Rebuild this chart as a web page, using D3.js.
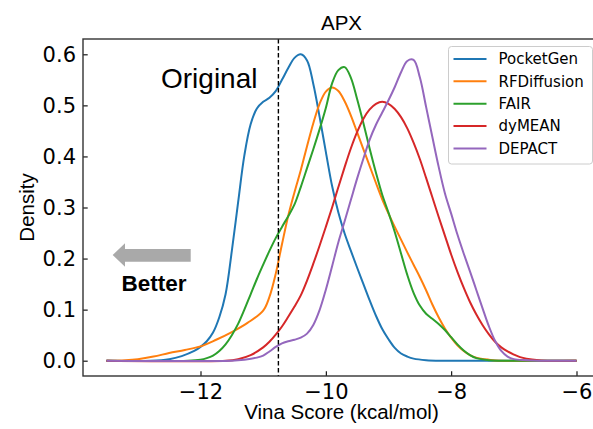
<!DOCTYPE html>
<html>
<head>
<meta charset="utf-8">
<script src="https://cdn.jsdelivr.net/npm/d3@7"></script>
<style>
  body { margin: 0; background: #fff; }
  svg { display: block; }
</style>
</head>
<body>
<div id="d3-container"></div>
<script>
// Vina score density curves as [score, density]
const pocketGen = [
    [-13.5, 0], [-12.8, 0], [-12.5, 0.003], [-12.3, 0.009], [-12.1, 0.019], [-12.0, 0.027],
    [-11.9, 0.038], [-11.8, 0.055], [-11.7, 0.085], [-11.6, 0.13], [-11.5, 0.215],
    [-11.4, 0.31], [-11.3, 0.402], [-11.2, 0.463], [-11.1, 0.494], [-11.0, 0.507],
    [-10.9, 0.515], [-10.8, 0.528], [-10.7, 0.55], [-10.6, 0.573], [-10.5, 0.593],
    [-10.4, 0.6], [-10.3, 0.588], [-10.2, 0.542], [-10.1, 0.478], [-10.0, 0.409],
    [-9.9, 0.342], [-9.8, 0.29], [-9.7, 0.249], [-9.6, 0.215], [-9.5, 0.182],
    [-9.4, 0.15], [-9.3, 0.118], [-9.2, 0.088], [-9.1, 0.062], [-9.0, 0.042],
    [-8.9, 0.025], [-8.8, 0.014], [-8.7, 0.008], [-8.6, 0.004], [-8.4, 0.001],
    [-8.1, 0], [-6.0, 0]
];
const rfDiffusion = [
    [-13.5, 0], [-13.2, 0.001], [-13.0, 0.003], [-12.75, 0.008], [-12.5, 0.015],
    [-12.25, 0.021], [-12.0, 0.028], [-11.75, 0.041], [-11.5, 0.056], [-11.25, 0.074],
    [-11.0, 0.098], [-10.9, 0.125], [-10.8, 0.17], [-10.7, 0.228], [-10.6, 0.284],
    [-10.5, 0.33], [-10.4, 0.373], [-10.3, 0.42], [-10.2, 0.465], [-10.1, 0.503],
    [-10.0, 0.527], [-9.9, 0.535], [-9.8, 0.528], [-9.7, 0.508], [-9.6, 0.48],
    [-9.5, 0.447], [-9.4, 0.414], [-9.3, 0.381], [-9.2, 0.348], [-9.1, 0.316],
    [-9.0, 0.288], [-8.9, 0.262], [-8.8, 0.237], [-8.7, 0.212], [-8.6, 0.188],
    [-8.5, 0.164], [-8.4, 0.138], [-8.3, 0.11], [-8.2, 0.085], [-8.1, 0.063],
    [-8.0, 0.045], [-7.9, 0.03], [-7.8, 0.019], [-7.7, 0.011], [-7.6, 0.006],
    [-7.4, 0.002], [-7.2, 0], [-6.0, 0]
];
const fair = [
    [-13.5, 0], [-12.2, 0], [-12.0, 0.002], [-11.9, 0.005], [-11.8, 0.01], [-11.7, 0.019],
    [-11.6, 0.032], [-11.5, 0.05], [-11.4, 0.072], [-11.3, 0.1], [-11.2, 0.13],
    [-11.1, 0.16], [-11.0, 0.188], [-10.9, 0.215], [-10.8, 0.24], [-10.7, 0.262],
    [-10.6, 0.283], [-10.5, 0.306], [-10.4, 0.34], [-10.3, 0.377], [-10.2, 0.414],
    [-10.1, 0.453], [-10.0, 0.495], [-9.9, 0.543], [-9.8, 0.569], [-9.7, 0.575],
    [-9.6, 0.554], [-9.5, 0.512], [-9.4, 0.465], [-9.3, 0.415], [-9.2, 0.368],
    [-9.1, 0.325], [-9.0, 0.29], [-8.9, 0.252], [-8.8, 0.21], [-8.7, 0.168],
    [-8.6, 0.133], [-8.5, 0.108], [-8.4, 0.092], [-8.3, 0.082], [-8.2, 0.072],
    [-8.1, 0.06], [-8.0, 0.046], [-7.9, 0.032], [-7.8, 0.02], [-7.7, 0.011],
    [-7.6, 0.005], [-7.4, 0.001], [-7.2, 0], [-6.0, 0]
];
const dyMean = [
    [-13.5, 0], [-11.6, 0], [-11.4, 0.003], [-11.2, 0.011], [-11.0, 0.026], [-10.9, 0.037],
    [-10.8, 0.051], [-10.7, 0.067], [-10.6, 0.086], [-10.5, 0.106], [-10.4, 0.128],
    [-10.3, 0.157], [-10.2, 0.19], [-10.1, 0.225], [-10.0, 0.262], [-9.9, 0.3],
    [-9.8, 0.34], [-9.7, 0.379], [-9.6, 0.416], [-9.5, 0.448], [-9.4, 0.474],
    [-9.3, 0.492], [-9.2, 0.503], [-9.1, 0.507], [-9.0, 0.503], [-8.9, 0.493],
    [-8.8, 0.477], [-8.7, 0.455], [-8.6, 0.427], [-8.5, 0.395], [-8.4, 0.358],
    [-8.3, 0.32], [-8.2, 0.282], [-8.1, 0.245], [-8.0, 0.208], [-7.9, 0.174],
    [-7.8, 0.143], [-7.7, 0.115], [-7.6, 0.091], [-7.5, 0.07], [-7.4, 0.052],
    [-7.3, 0.037], [-7.2, 0.026], [-7.1, 0.018], [-7.0, 0.012], [-6.9, 0.007],
    [-6.8, 0.004], [-6.6, 0.001], [-6.4, 0], [-6.0, 0]
];
const depact = [
    [-13.5, 0], [-11.5, 0], [-11.3, 0.002], [-11.1, 0.006], [-11.0, 0.01], [-10.9, 0.018],
    [-10.8, 0.027], [-10.7, 0.034], [-10.6, 0.038], [-10.5, 0.041], [-10.4, 0.045],
    [-10.3, 0.053], [-10.2, 0.07], [-10.1, 0.099], [-10.0, 0.139], [-9.9, 0.185],
    [-9.8, 0.232], [-9.7, 0.273], [-9.6, 0.315], [-9.5, 0.357], [-9.4, 0.396],
    [-9.3, 0.433], [-9.2, 0.462], [-9.1, 0.486], [-9.0, 0.51], [-8.9, 0.536],
    [-8.8, 0.565], [-8.7, 0.587], [-8.6, 0.589], [-8.5, 0.555], [-8.4, 0.497],
    [-8.3, 0.438], [-8.2, 0.38], [-8.1, 0.328], [-8.0, 0.288], [-7.9, 0.247],
    [-7.8, 0.21], [-7.7, 0.175], [-7.6, 0.139], [-7.5, 0.103], [-7.4, 0.068],
    [-7.3, 0.039], [-7.2, 0.019], [-7.1, 0.008], [-7.0, 0.003], [-6.8, 0.001],
    [-6.6, 0], [-6.0, 0]
];

const seriesNames = ["PocketGen", "RFDiffusion", "FAIR", "dyMEAN", "DEPACT"];
const seriesData = [pocketGen, rfDiffusion, fair, dyMean, depact];
const colors = ["#1f77b4", "#ff7f0e", "#2ca02c", "#d62728", "#9467bd"];

const xTicks = [-12, -10, -8, -6];
const yTicks = [0.0, 0.1, 0.2, 0.3, 0.4, 0.5, 0.6];
const originalScore = -10.757;

const width = 593;
const height = 429;
const margin = {top: 39, bottom: 53, left: 83, right: -7};
const innerWidth = width - margin.left - margin.right;
const innerHeight = height - margin.top - margin.bottom;

const svg = d3.select("#d3-container")
    .append("svg")
    .attr("width", width)
    .attr("height", height);

const x = d3.scaleLinear()
    .domain([-13.875, -5.625])
    .range([0, innerWidth]);

const y = d3.scaleLinear()
    .domain([-0.03, 0.63])
    .range([innerHeight, 0]);

const g = svg.append("g")
    .attr("transform", `translate(${margin.left},${margin.top})`);

// Achsen (ticks nach innen)
const xAxis = g.append("g")
    .attr("transform", `translate(0,${innerHeight})`)
    .call(d3.axisBottom(x).tickValues(xTicks).tickSize(-4.7).tickPadding(8));

const yAxis = g.append("g")
    .call(d3.axisLeft(y).tickValues(yTicks).tickFormat(d3.format(".1f")).tickSize(-4.7).tickPadding(7));

[xAxis, yAxis].forEach(a => {
    a.select(".domain").remove();
    a.selectAll(".tick line").attr("stroke", "#000").attr("stroke-width", 1.1);
    a.selectAll(".tick text")
        .attr("fill", "#000")
        .style("font-family", "'DejaVu Sans', sans-serif")
        .style("font-size", "21px");
});

// Kurven
const line = d3.line()
    .x(d => x(d[0]))
    .y(d => y(d[1]))
    .curve(d3.curveCatmullRom.alpha(0.5));

g.append("g")
    .selectAll("path")
    .data(seriesData)
    .join("path")
    .attr("d", line)
    .attr("fill", "none")
    .attr("stroke", (d, i) => colors[i])
    .attr("stroke-width", 2)
    .attr("stroke-linejoin", "round");

// Original-Linie
g.append("line")
    .attr("x1", x(originalScore))
    .attr("x2", x(originalScore))
    .attr("y1", 0)
    .attr("y2", innerHeight)
    .attr("stroke", "#000")
    .attr("stroke-width", 1.4)
    .attr("stroke-dasharray", "4.5,2.5");

// Rahmen
g.append("rect")
    .attr("width", innerWidth)
    .attr("height", innerHeight)
    .attr("fill", "none")
    .attr("stroke", "#333")
    .attr("stroke-width", 1.4);

// Texte
const arial = "'Liberation Sans', Arial, sans-serif";

svg.append("text")
    .attr("x", 341.5)
    .attr("y", 29.5)
    .attr("text-anchor", "middle")
    .style("font-family", arial)
    .style("font-size", "20.5px")
    .text("APX");

svg.append("text")
    .attr("x", 341.5)
    .attr("y", 419)
    .attr("text-anchor", "middle")
    .style("font-family", arial)
    .style("font-size", "20.5px")
    .text("Vina Score (kcal/mol)");

svg.append("text")
    .attr("transform", `translate(34,${margin.top + innerHeight / 2}) rotate(-90)`)
    .attr("text-anchor", "middle")
    .style("font-family", arial)
    .style("font-size", "20.5px")
    .text("Density");

svg.append("text")
    .attr("x", 161)
    .attr("y", 87.5)
    .style("font-family", arial)
    .style("font-size", "28px")
    .text("Original");

svg.append("text")
    .attr("x", 121.5)
    .attr("y", 291)
    .style("font-family", arial)
    .style("font-weight", "bold")
    .style("font-size", "22.5px")
    .text("Better");

// Pfeil nach links
svg.append("path")
    .attr("d", "M112.7,255 L125,243.3 L125,249 L190.7,249 L190.7,261.7 L125,261.7 L125,266.7 Z")
    .attr("fill", "#a9a9a9");

// Legende
const legend = svg.append("g");

legend.append("rect")
    .attr("x", 448.5)
    .attr("y", 46.5)
    .attr("width", 144)
    .attr("height", 117.5)
    .attr("rx", 3)
    .attr("fill", "#fff")
    .attr("fill-opacity", 0.8)
    .attr("stroke", "#cccccc");

const item = legend.selectAll("g")
    .data(seriesNames)
    .join("g")
    .attr("transform", (d, i) => `translate(453.5,${59 + i * 22.35})`);

item.append("line")
    .attr("x1", 0)
    .attr("x2", 33)
    .attr("stroke", (d, i) => colors[i])
    .attr("stroke-width", 2);

item.append("text")
    .attr("x", 45)
    .attr("dy", "0.36em")
    .style("font-family", "'DejaVu Sans', sans-serif")
    .style("font-size", "15px")
    .text(d => d);

svg.node();
</script>
</body>
</html>
